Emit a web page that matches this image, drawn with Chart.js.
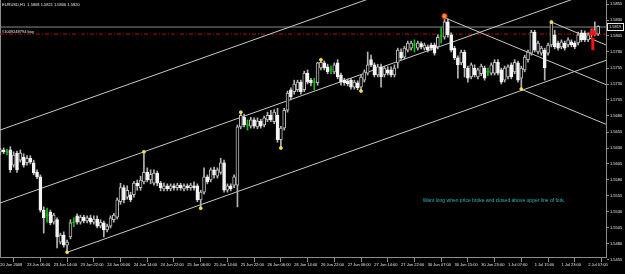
<!DOCTYPE html>
<html>
<head>
<meta charset="utf-8">
<script src="https://cdn.jsdelivr.net/npm/chart.js@4/dist/chart.umd.min.js"></script>
<style>
  html, body { margin: 0; padding: 0; background: #000; overflow: hidden; }
  canvas { display: block; }
</style>
</head>
<body>
<canvas id="c" width="625" height="274"></canvas>
<script>
// EURUSD H1, 20 Jun - 2 Jul 2008
const title = 'EURUSD,H1  1.5808 1.5821 1.5806 1.5820';
const xLabels = ['20 Jun 2008', '23 Jun 06:00', '23 Jun 14:00', '23 Jun 22:00', '24 Jun 06:00', '24 Jun 14:00',
  '24 Jun 22:00', '25 Jun 06:00', '25 Jun 14:00', '25 Jun 22:00', '26 Jun 06:00', '26 Jun 14:00', '26 Jun 22:00',
  '27 Jun 06:00', '27 Jun 14:00', '27 Jun 22:00', '30 Jun 07:00', '30 Jun 15:00', '30 Jun 23:00', '1 Jul 07:00',
  '1 Jul 15:00', '1 Jul 23:00', '2 Jul 07:00'];
const barsPerLabel = 8;
const yTicks = [1.5855, 1.5830, 1.5805, 1.5780, 1.5755, 1.5730, 1.5705, 1.5680, 1.5655, 1.5630, 1.5605,
  1.5580, 1.5555, 1.5530, 1.5505, 1.5480, 1.5455];

const opens = [
  1.5624, 1.5627, 1.5624, 1.5627, 1.5603, 1.5622, 1.5611, 1.5616, 1.5607, 1.5614,
  1.5607, 1.5592, 1.5585, 1.5533, 1.5525, 1.5530, 1.5514, 1.5518, 1.5483, 1.5494,
  1.5478, 1.5491, 1.5514, 1.5524, 1.5514, 1.5522, 1.5516, 1.5521, 1.5514, 1.5519,
  1.5508, 1.5513, 1.5502, 1.5508, 1.5518, 1.5522, 1.5546, 1.5568, 1.5553, 1.5557,
  1.5557, 1.5575, 1.5568, 1.5577, 1.5592, 1.5580, 1.5575, 1.5591, 1.5575, 1.5566,
  1.5571, 1.5566, 1.5571, 1.5568, 1.5572, 1.5566, 1.5571, 1.5568, 1.5571, 1.5571,
  1.5549, 1.5561, 1.5585, 1.5580, 1.5596, 1.5586, 1.5592, 1.5607, 1.5564, 1.5571,
  1.5572, 1.5572, 1.5663, 1.5678, 1.5666, 1.5664, 1.5674, 1.5663, 1.5672, 1.5666,
  1.5674, 1.5681, 1.5671, 1.5681, 1.5643, 1.5661, 1.5689, 1.5721, 1.5718, 1.5721,
  1.5733, 1.5721, 1.5747, 1.5736, 1.5733, 1.5732, 1.5755, 1.5763, 1.5757, 1.5752,
  1.5749, 1.5763, 1.5744, 1.5736, 1.5735, 1.5736, 1.5725, 1.5732, 1.5725, 1.5736,
  1.5747, 1.5768, 1.5760, 1.5744, 1.5757, 1.5744, 1.5752, 1.5752, 1.5744, 1.5763,
  1.5780, 1.5772, 1.5783, 1.5786, 1.5791, 1.5786, 1.5793, 1.5786, 1.5788, 1.5791,
  1.5791, 1.5788, 1.5805, 1.5803, 1.5827, 1.5807, 1.5786, 1.5771, 1.5763, 1.5780,
  1.5755, 1.5741, 1.5755, 1.5741, 1.5746, 1.5755, 1.5749, 1.5747, 1.5747, 1.5764,
  1.5752, 1.5736, 1.5741, 1.5760, 1.5749, 1.5763, 1.5739, 1.5752, 1.5768, 1.5778,
  1.5811, 1.5780, 1.5778, 1.5783, 1.5778, 1.5791, 1.5807, 1.5794, 1.5788, 1.5794,
  1.5791, 1.5796, 1.5794, 1.5794, 1.5810, 1.5810, 1.5799, 1.5811, 1.5810, 1.5808];
const highs = [
  1.5630, 1.5630, 1.5628, 1.5632, 1.5624, 1.5625, 1.5627, 1.5621, 1.5618, 1.5618,
  1.5611, 1.5596, 1.5588, 1.5538, 1.5536, 1.5533, 1.5528, 1.5521, 1.5497, 1.5499,
  1.5486, 1.5518, 1.5521, 1.5527, 1.5525, 1.5525, 1.5524, 1.5525, 1.5524, 1.5524,
  1.5518, 1.5516, 1.5511, 1.5524, 1.5528, 1.5552, 1.5575, 1.5572, 1.5571, 1.5561,
  1.5578, 1.5580, 1.5586, 1.5624, 1.5599, 1.5596, 1.5596, 1.5594, 1.5578, 1.5575,
  1.5574, 1.5574, 1.5574, 1.5575, 1.5575, 1.5574, 1.5574, 1.5575, 1.5577, 1.5574,
  1.5564, 1.5599, 1.5588, 1.5599, 1.5600, 1.5599, 1.5614, 1.5611, 1.5574, 1.5574,
  1.5588, 1.5666, 1.5686, 1.5683, 1.5674, 1.5678, 1.5677, 1.5677, 1.5675, 1.5680,
  1.5686, 1.5689, 1.5690, 1.5692, 1.5664, 1.5692, 1.5719, 1.5724, 1.5736, 1.5736,
  1.5736, 1.5750, 1.5752, 1.5739, 1.5739, 1.5764, 1.5768, 1.5766, 1.5761, 1.5758,
  1.5763, 1.5768, 1.5747, 1.5739, 1.5738, 1.5739, 1.5736, 1.5735, 1.5744, 1.5752,
  1.5780, 1.5775, 1.5763, 1.5761, 1.5761, 1.5758, 1.5757, 1.5757, 1.5760, 1.5786,
  1.5785, 1.5789, 1.5797, 1.5797, 1.5799, 1.5797, 1.5796, 1.5794, 1.5791, 1.5794,
  1.5794, 1.5807, 1.5818, 1.5836, 1.5832, 1.5810, 1.5789, 1.5774, 1.5783, 1.5783,
  1.5758, 1.5763, 1.5760, 1.5755, 1.5761, 1.5758, 1.5755, 1.5763, 1.5768, 1.5768,
  1.5755, 1.5758, 1.5760, 1.5763, 1.5768, 1.5766, 1.5758, 1.5775, 1.5783, 1.5814,
  1.5814, 1.5797, 1.5789, 1.5786, 1.5794, 1.5827, 1.5814, 1.5797, 1.5799, 1.5797,
  1.5802, 1.5799, 1.5797, 1.5811, 1.5814, 1.5813, 1.5810, 1.5816, 1.5827, 1.5821];
const lows = [
  1.5619, 1.5621, 1.5619, 1.5592, 1.5600, 1.5592, 1.5608, 1.5600, 1.5603, 1.5605,
  1.5588, 1.5582, 1.5530, 1.5497, 1.5514, 1.5510, 1.5511, 1.5474, 1.5480, 1.5475,
  1.5467, 1.5488, 1.5507, 1.5511, 1.5511, 1.5513, 1.5513, 1.5511, 1.5511, 1.5505,
  1.5505, 1.5491, 1.5499, 1.5505, 1.5514, 1.5519, 1.5542, 1.5544, 1.5550, 1.5546,
  1.5553, 1.5564, 1.5564, 1.5574, 1.5577, 1.5574, 1.5572, 1.5571, 1.5563, 1.5563,
  1.5563, 1.5563, 1.5564, 1.5564, 1.5564, 1.5563, 1.5564, 1.5564, 1.5564, 1.5546,
  1.5536, 1.5558, 1.5574, 1.5577, 1.5583, 1.5583, 1.5589, 1.5561, 1.5561, 1.5563,
  1.5568, 1.5538, 1.5660, 1.5663, 1.5658, 1.5661, 1.5661, 1.5660, 1.5661, 1.5663,
  1.5671, 1.5671, 1.5668, 1.5639, 1.5630, 1.5658, 1.5686, 1.5705, 1.5714, 1.5718,
  1.5714, 1.5718, 1.5730, 1.5727, 1.5721, 1.5728, 1.5752, 1.5752, 1.5746, 1.5746,
  1.5746, 1.5738, 1.5728, 1.5728, 1.5727, 1.5722, 1.5722, 1.5721, 1.5719, 1.5733,
  1.5744, 1.5757, 1.5741, 1.5741, 1.5725, 1.5741, 1.5744, 1.5741, 1.5741, 1.5755,
  1.5768, 1.5769, 1.5780, 1.5783, 1.5780, 1.5783, 1.5785, 1.5783, 1.5780, 1.5783,
  1.5775, 1.5785, 1.5794, 1.5800, 1.5803, 1.5780, 1.5768, 1.5739, 1.5760, 1.5741,
  1.5733, 1.5738, 1.5741, 1.5738, 1.5743, 1.5736, 1.5743, 1.5744, 1.5744, 1.5744,
  1.5730, 1.5733, 1.5738, 1.5738, 1.5746, 1.5733, 1.5722, 1.5749, 1.5764, 1.5775,
  1.5780, 1.5777, 1.5775, 1.5736, 1.5775, 1.5788, 1.5785, 1.5783, 1.5785, 1.5783,
  1.5788, 1.5788, 1.5785, 1.5791, 1.5796, 1.5796, 1.5796, 1.5803, 1.5805, 1.5806];
const closes = [
  1.5627, 1.5624, 1.5624, 1.5596, 1.5619, 1.5596, 1.5622, 1.5603, 1.5614, 1.5608,
  1.5591, 1.5585, 1.5533, 1.5521, 1.5525, 1.5513, 1.5525, 1.5491, 1.5494, 1.5478,
  1.5483, 1.5513, 1.5514, 1.5514, 1.5522, 1.5516, 1.5521, 1.5514, 1.5519, 1.5508,
  1.5514, 1.5502, 1.5508, 1.5521, 1.5525, 1.5549, 1.5568, 1.5549, 1.5564, 1.5549,
  1.5575, 1.5571, 1.5580, 1.5592, 1.5580, 1.5589, 1.5591, 1.5575, 1.5568, 1.5571,
  1.5566, 1.5571, 1.5568, 1.5572, 1.5568, 1.5571, 1.5568, 1.5572, 1.5568, 1.5549,
  1.5561, 1.5585, 1.5577, 1.5596, 1.5588, 1.5596, 1.5607, 1.5564, 1.5571, 1.5566,
  1.5585, 1.5663, 1.5681, 1.5666, 1.5666, 1.5674, 1.5664, 1.5672, 1.5664, 1.5677,
  1.5681, 1.5674, 1.5686, 1.5643, 1.5661, 1.5689, 1.5716, 1.5710, 1.5730, 1.5733,
  1.5718, 1.5747, 1.5733, 1.5732, 1.5733, 1.5763, 1.5764, 1.5755, 1.5749, 1.5752,
  1.5760, 1.5741, 1.5733, 1.5732, 1.5730, 1.5725, 1.5733, 1.5724, 1.5741, 1.5749,
  1.5760, 1.5760, 1.5744, 1.5757, 1.5741, 1.5755, 1.5747, 1.5744, 1.5755, 1.5783,
  1.5771, 1.5786, 1.5794, 1.5794, 1.5791, 1.5794, 1.5788, 1.5791, 1.5783, 1.5786,
  1.5778, 1.5803, 1.5805, 1.5827, 1.5807, 1.5783, 1.5771, 1.5760, 1.5780, 1.5755,
  1.5739, 1.5760, 1.5744, 1.5752, 1.5758, 1.5739, 1.5749, 1.5760, 1.5764, 1.5747,
  1.5733, 1.5755, 1.5757, 1.5741, 1.5764, 1.5736, 1.5755, 1.5772, 1.5780, 1.5811,
  1.5783, 1.5794, 1.5786, 1.5755, 1.5791, 1.5825, 1.5788, 1.5786, 1.5796, 1.5786,
  1.5799, 1.5791, 1.5788, 1.5807, 1.5799, 1.5799, 1.5807, 1.5807, 1.5808, 1.5820];

// zigzag turning points [bar, price]
const pivots = [[20, 1.5467], [43, 1.5624], [60, 1.5536], [72, 1.5686], [84, 1.5630], [96, 1.5768],
  [108, 1.5719], [133, 1.5836], [156, 1.5722], [165, 1.5827]];
// pitchfork lines, [bar, price] ends
const forkLines = [
  [[20, 1.5467], [181.35, 1.5767]],
  [[-0.09, 1.5544], [181.35, 1.5881]],
  [[-0.09, 1.5658], [181.35, 1.5995]],
  [[132.8, 1.5834], [181.35, 1.5729]],
  [[164.9, 1.5827], [181.35, 1.5791]],
  [[155.9, 1.5722], [181.35, 1.5667]]
];
const bidPrice = 1.5819;
const orderPrice = 1.5808;
const orderLabel = '#1009248794 buy';
const note = 'Want long when price broke and closed above upper line of fork.';
const noteAt = [126.5, 1.5547];
const arrowBar = 177.4, arrowFrom = 1.5783, arrowTo = 1.5802, arrowHead = 1.5810;

const xMin = -0.09, xMax = 181.35;
const yMin = 1.54596875, yMax = 1.586125;
const xTicks = xLabels.map((_, k) => k * barsPerLabel);

const idx = opens.map((_, i) => i);
const isDoji = i => opens[i] === closes[i];
const full = idx.filter(i => !isDoji(i));
const dojis = idx.filter(isDoji);
const wickData = full.map(i => ({ x: i, y: [lows[i], highs[i]] }));
const bodyData = full.map(i => ({ x: i, y: [opens[i], closes[i]] }));
const bodyUp = full.map(i => closes[i] > opens[i]);
const dojiWick = dojis.map(i => ({ x: i, y: [lows[i], highs[i]] }));
const dojiBody = dojis.map(i => ({ x: i, y: opens[i] }));

const FONT = '"Liberation Sans", Arial, sans-serif';
const AXIS = '#8c8c8c';
const noPad = s => { s.paddingTop = 0; s.paddingBottom = 0; s.paddingLeft = 0; s.paddingRight = 0; };

const datasets = [
  { type: 'bar', data: wickData, backgroundColor: '#b4b4b4', barThickness: 1, grouped: false, order: 5 },
  { type: 'bar', data: dojiWick, backgroundColor: '#10c010', barThickness: 1, grouped: false, order: 5 },
  { type: 'bar', data: bodyData, grouped: false, order: 4, barThickness: 3, borderWidth: 1, borderSkipped: false,
    backgroundColor: c => bodyUp[c.dataIndex] ? '#000' : '#f4f4f4',
    borderColor: c => bodyUp[c.dataIndex] ? '#bcbcbc' : '#f4f4f4' },
  { type: 'line', data: dojiBody, showLine: false, pointStyle: 'line', pointRadius: 1.6,
    pointBorderColor: '#10c010', pointBorderWidth: 1, order: 3 }
];
forkLines.forEach(l => datasets.push({
  type: 'line', data: l.map(p => ({ x: p[0], y: p[1] })), borderColor: '#c8c8c8', borderWidth: 1,
  pointRadius: 0, order: 6
}));
datasets.push({ type: 'line', data: [{ x: xMin, y: bidPrice }, { x: xMax, y: bidPrice }],
  borderColor: '#8a8a8a', borderWidth: 1, pointRadius: 0, order: 7 });
datasets.push({ type: 'line', data: [{ x: xMin, y: orderPrice }, { x: xMax, y: orderPrice }],
  borderColor: '#b01010', borderWidth: 1, borderDash: [4, 2, 1, 2], pointRadius: 0, order: 7 });
datasets.push({ type: 'line', data: pivots.map(p => ({ x: p[0], y: p[1] })), showLine: false,
  pointRadius: pivots.map(p => p[0] === 133 ? 2.6 : 1.5),
  pointBackgroundColor: pivots.map(p => p[0] === 133 ? '#ff9020' : '#f4e040'),
  pointBorderColor: pivots.map(p => p[0] === 133 ? '#e02010' : '#f4e040'),
  pointBorderWidth: 0.8, order: 1 });
datasets.push({ type: 'line', data: [{ x: arrowBar, y: arrowFrom }, { x: arrowBar, y: arrowTo }],
  borderColor: '#ff1010', borderWidth: 3, pointRadius: 0, order: 0 });
datasets.push({ type: 'line', data: [{ x: arrowBar, y: arrowHead }], showLine: false, pointStyle: 'triangle',
  pointRadius: 4.5, pointBackgroundColor: '#ff1010', pointBorderColor: '#ff1010', order: 0 });

const overlay = {
  id: 'overlay',
  afterDraw(chart) {
    const { ctx, scales: { x, y } } = chart;
    ctx.save();
    ctx.textBaseline = 'middle';
    ctx.font = '4px ' + FONT;
    ctx.fillStyle = '#e8e8e8';
    ctx.fillText(title, 2, 5);
    ctx.fillText(orderLabel, 2, y.getPixelForValue(orderPrice) - 2.5);
    ctx.font = '5px ' + FONT;
    ctx.fillStyle = '#2fb4b4';
    ctx.fillText(note, x.getPixelForValue(noteAt[0]), y.getPixelForValue(noteAt[1]));
    // bid price box on the price scale
    const by = Math.round(y.getPixelForValue(bidPrice));
    ctx.fillStyle = '#000';
    ctx.fillRect(607, by - 3.5, 17, 7);
    ctx.strokeStyle = '#e8e8e8';
    ctx.lineWidth = 1;
    ctx.strokeRect(607.5, by - 3.5, 16, 7);
    ctx.font = '4px ' + FONT;
    ctx.fillStyle = '#e8e8e8';
    ctx.fillText(bidPrice.toFixed(4), 609, by);
    ctx.restore();
  }
};

new Chart(document.getElementById('c'), {
  type: 'bar',
  data: { datasets },
  options: {
    responsive: false,
    animation: false,
    devicePixelRatio: 1,
    layout: { padding: 0, autoPadding: false },
    plugins: { legend: { display: false }, tooltip: { enabled: false }, title: { display: false } },
    scales: {
      x: {
        type: 'linear', position: 'bottom', min: xMin, max: xMax, offset: false,
        afterBuildTicks: s => { s.ticks = xTicks.map(v => ({ value: v })); },
        afterFit: s => { s.height = 17; noPad(s); },
        grid: { drawOnChartArea: false, color: AXIS, tickLength: 5 },
        border: { color: AXIS },
        ticks: { color: '#e8e8e8', font: { size: 4, family: FONT }, align: 'start', maxRotation: 0,
          autoSkip: false, padding: 0, callback: v => xLabels[Math.round(v / barsPerLabel)] }
      },
      y: {
        type: 'linear', position: 'right', min: yMin, max: yMax,
        afterBuildTicks: s => { s.ticks = yTicks.map(v => ({ value: v })); },
        afterFit: s => { s.width = 19; noPad(s); },
        grid: { drawOnChartArea: false, color: AXIS, tickLength: 3 },
        border: { color: AXIS },
        ticks: { color: '#e8e8e8', font: { size: 4, family: FONT }, padding: 1, autoSkip: false,
          callback: v => v.toFixed(4) }
      },
      yl: {
        position: 'left', afterFit: s => { s.width = 0; noPad(s); },
        ticks: { display: false, padding: 0 }, grid: { display: false }, border: { color: AXIS }
      }
    }
  },
  plugins: [overlay]
});
</script>
</body>
</html>
